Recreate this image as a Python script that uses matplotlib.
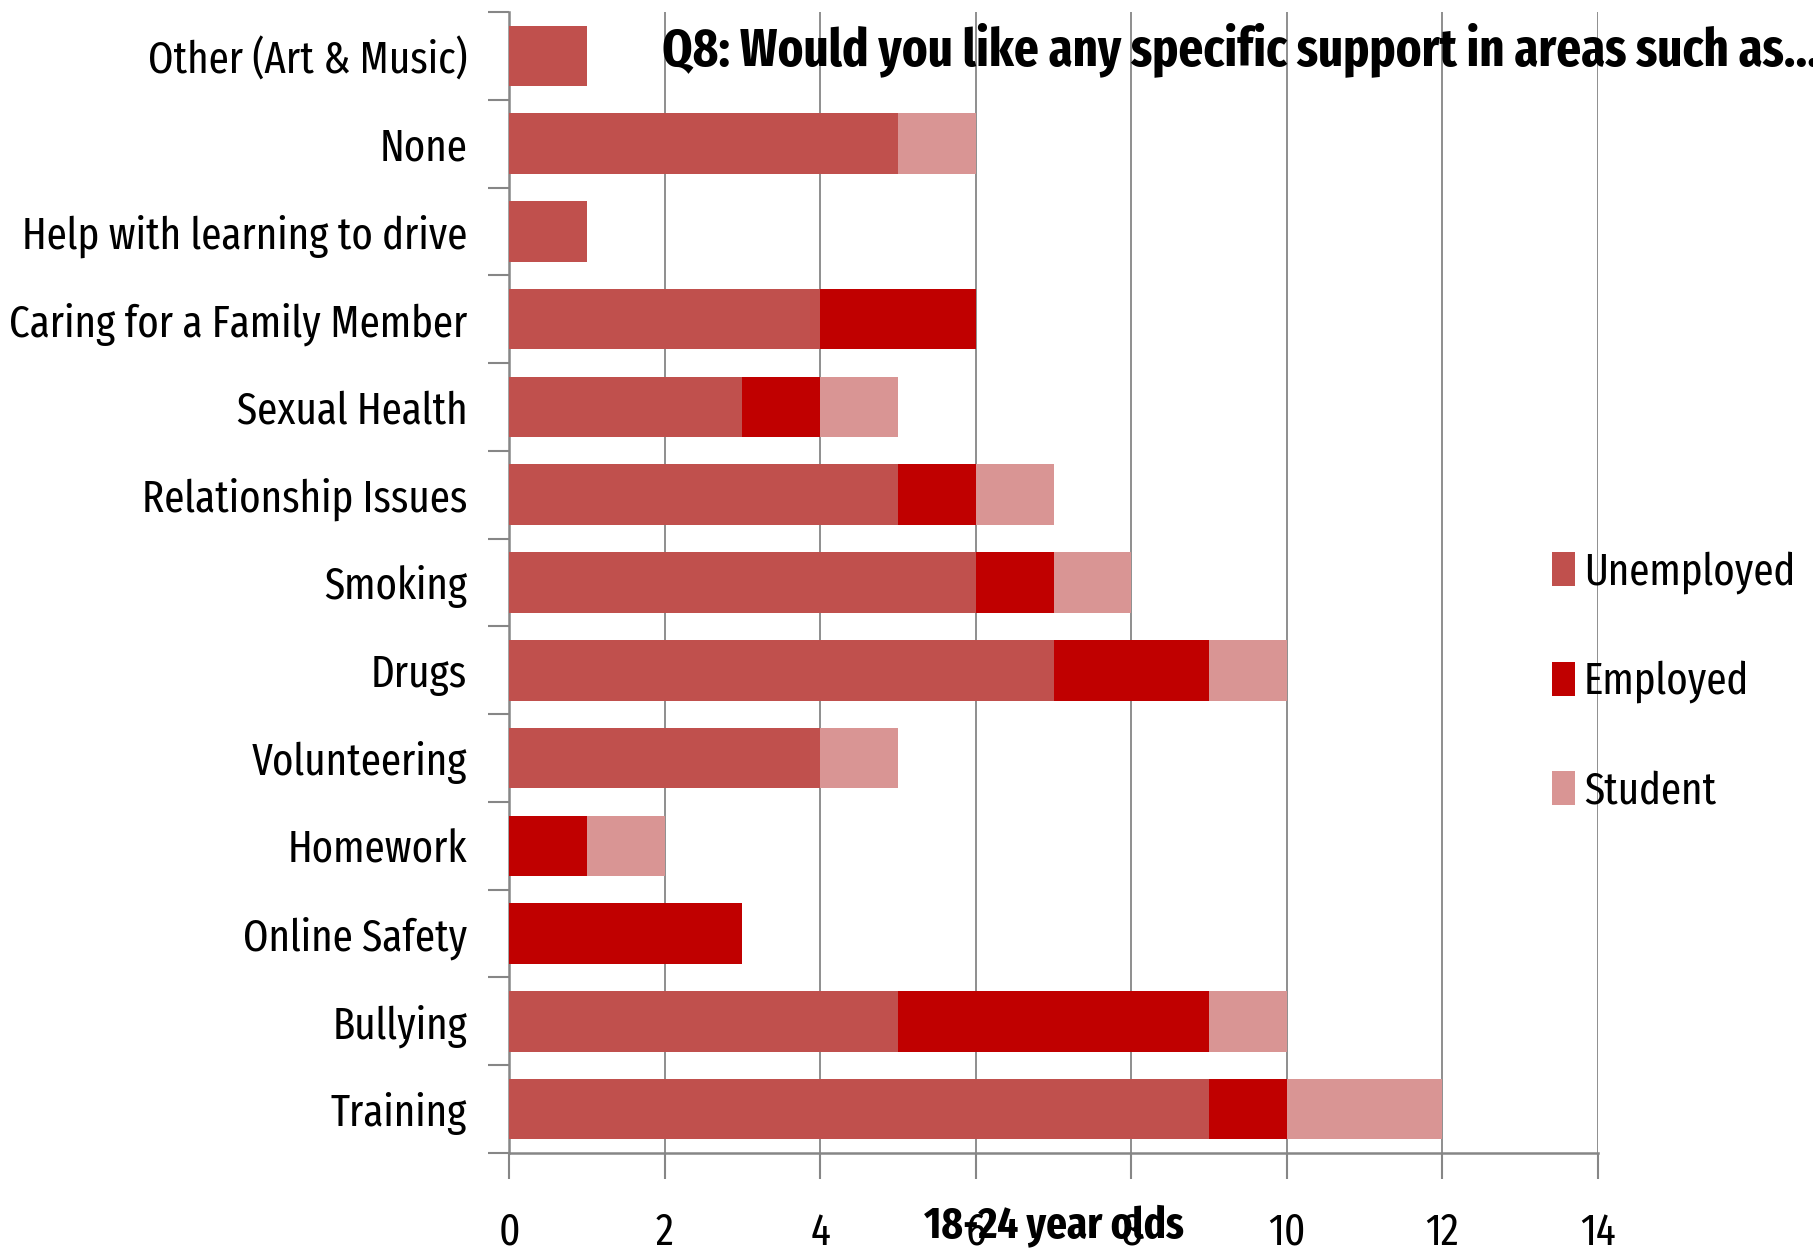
import matplotlib
matplotlib.use("Agg")
import matplotlib.pyplot as plt
import numpy as np

plt.rcParams['font.family'] = ['Fira Sans Extra Condensed', 'DejaVu Sans']

categories = ['Other (Art & Music)', 'None', 'Help with learning to drive',
              'Caring for a Family Member', 'Sexual Health', 'Relationship Issues',
              'Smoking', 'Drugs', 'Volunteering', 'Homework', 'Online Safety',
              'Bullying', 'Training']
unemployed = [1, 5, 1, 4, 3, 5, 6, 7, 4, 0, 0, 5, 9]
employed   = [0, 0, 0, 2, 1, 1, 1, 2, 0, 1, 3, 4, 1]
student    = [0, 1, 0, 0, 1, 1, 1, 1, 1, 1, 0, 1, 2]

series = [('Unemployed', unemployed, '#C0504D'),
          ('Employed', employed, '#C00000'),
          ('Student', student, '#D99594')]

W, H = 1813, 1258
fig = plt.figure(figsize=(W / 100, H / 100), dpi=100)
ax = fig.add_axes([509 / W, 1 - 1153 / H, (1598 - 509) / W, (1153 - 12) / H])

y = np.arange(len(categories))
left = np.zeros(len(categories))
for name, vals, col in series:
    vals = np.array(vals, dtype=float)
    ax.barh(y, vals, left=left, height=0.69, color=col, label=name, zorder=3)
    left += vals

FS = 32
ax.set_ylim(len(categories) - 0.5, -0.5)
ax.set_xlim(0, 14)
ax.set_xticks(range(0, 15, 2))
ax.set_yticks(y)
ax.set_yticklabels(categories, fontsize=FS)
ax.set_yticks(np.arange(-0.5, len(categories), 1), minor=True)
ax.tick_params(axis='y', which='major', length=0, pad=30)
ax.tick_params(axis='y', which='minor', length=15, width=1.5, color='#868686')
ax.tick_params(axis='x', length=19, width=1.5, color='#868686', labelsize=FS, pad=23)

ax.grid(axis='x', color='#868686', linewidth=1.3, zorder=0)
for s in ['top', 'right']:
    ax.spines[s].set_visible(False)
for s in ['left', 'bottom']:
    ax.spines[s].set_color('#868686')
    ax.spines[s].set_linewidth(1.8)

ax.set_xlabel('18-24 year olds', fontsize=FS, fontweight='bold')
ax.xaxis.set_label_coords(0.5, -(1226 - 1153) / (1153 - 12))
ax.xaxis.label.set_va('center')

fig.text(662 / W, 1 - 50 / H, 'Q8: Would you like any specific support in areas such as...',
         fontsize=38, fontweight='bold', va='center', ha='left')

leg = fig.legend(loc='center left', bbox_to_anchor=(1552 / W, 1 - 682 / H), frameon=False,
                 prop={'size': FS}, handlelength=0.52, handleheight=0.8,
                 handletextpad=0.2, labelspacing=1.5, borderpad=0, borderaxespad=0)

fig.savefig('out.png', dpi=100)
